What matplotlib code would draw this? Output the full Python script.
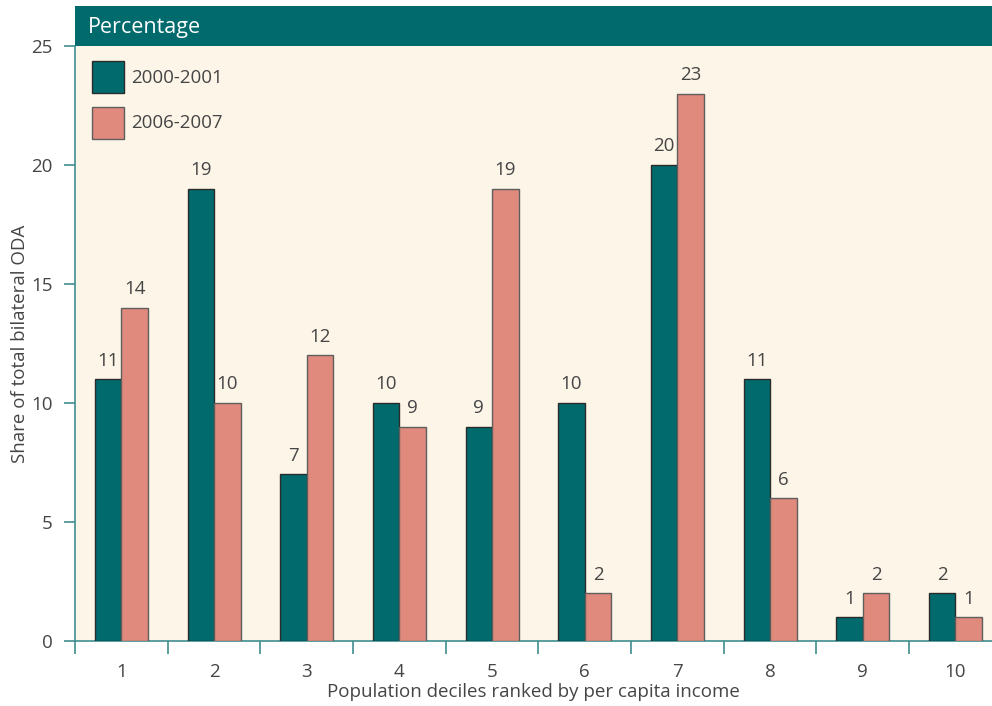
import matplotlib
matplotlib.use("Agg")
import matplotlib.pyplot as plt
import numpy as np
from matplotlib.patches import Rectangle, Patch

deciles = ["1", "2", "3", "4", "5", "6", "7", "8", "9", "10"]
share_2000_2001 = [11, 19, 7, 10, 9, 10, 20, 11, 1, 2]
share_2006_2007 = [14, 10, 12, 9, 19, 2, 23, 6, 2, 1]
series_labels = ["2000-2001", "2006-2007"]
yticks = [0, 5, 10, 15, 20, 25]

TEAL = "#006A6D"
PINK = "#E08A7E"
CREAM = "#FCF5E8"
TXT = "#454545"
AXC = "#3F8E91"

plt.rcParams["font.family"] = ["Open Sans", "DejaVu Sans"]

fig = plt.figure(figsize=(9.92, 7.06), dpi=100)
W, H = 992, 706
ax = fig.add_axes([75 / W, 1 - 641 / H, 1 - 75 / W, (641 - 46) / H])
ax.set_facecolor(CREAM)

x = np.arange(1, len(deciles) + 1)
bw = 0.286
b1 = ax.bar(x - bw / 2, share_2000_2001, bw, color=TEAL, edgecolor="#2b2b2b", linewidth=1, zorder=3)
b2 = ax.bar(x + bw / 2, share_2006_2007, bw, color=PINK, edgecolor="#5e5e5e", linewidth=1, zorder=3)

for bars, vals in ((b1, share_2000_2001), (b2, share_2006_2007)):
    for r, v in zip(bars, vals):
        ax.text(r.get_x() + r.get_width() / 2, v + 0.4, str(v), ha="center", va="bottom",
                fontsize=13.5, color=TXT)

ax.set_yticks(yticks)
ax.set_yticklabels([str(t) for t in yticks], fontsize=13.5, color=TXT)
ax.set_xticks(x)
ax.set_xticklabels(deciles, fontsize=13.5, color=TXT)
ax.set_xticks(np.arange(0.5, 11, 1), minor=True)
ax.set_xlim(0.5, 10.395)
ax.set_ylim(0, 25)
ax.tick_params(axis="x", which="major", length=0, pad=15.5)
ax.tick_params(axis="x", which="minor", length=9, width=1.2, color=AXC, direction="out")
ax.tick_params(axis="y", which="major", length=8, width=1.2, color=AXC, direction="out", pad=8)

for s in ["top", "right"]:
    ax.spines[s].set_visible(False)
for s in ["left", "bottom"]:
    ax.spines[s].set_color(AXC)
    ax.spines[s].set_linewidth(1.2)

ax.set_xlabel("Population deciles ranked by per capita income", fontsize=13.5, color=TXT, labelpad=1.5)
ax.set_ylabel("Share of total bilateral ODA", fontsize=13.5, color=TXT, labelpad=1.5)

# header bar
fig.patches.append(Rectangle((75 / W, 1 - 46 / H), 1 - 75 / W, 40 / H, transform=fig.transFigure,
                             facecolor=TEAL, edgecolor="none", zorder=5))
fig.text(88 / W, 1 - 28 / H, "Percentage", color="white", fontsize=15.5, va="center", ha="left", zorder=6)

handles = [Patch(facecolor=TEAL, edgecolor="#2b2b2b", linewidth=1),
           Patch(facecolor=PINK, edgecolor="#5e5e5e", linewidth=1)]
fs = 13.5
px = fs * 100 / 72
hh = (32 - 0.35 * px * 0.7) / (0.65 * px)
leg = ax.legend(handles, series_labels, loc="upper left",
                bbox_to_anchor=((92 - 75) / 917, 1 - 15 / 595),
                frameon=False, fontsize=fs, borderpad=0, borderaxespad=0,
                handlelength=32 / px, handleheight=hh,
                labelspacing=(45.5 - 32) / px, handletextpad=7 / px)
for t in leg.get_texts():
    t.set_color(TXT)

fig.savefig("out.png", dpi=100, facecolor="white")
